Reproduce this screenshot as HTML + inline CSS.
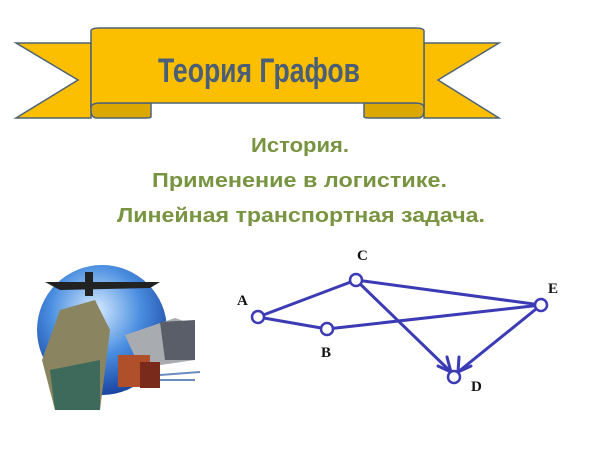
<!DOCTYPE html>
<html><head><meta charset="utf-8"><style>
html,body{margin:0;padding:0;background:#fff;}
svg{display:block;}
</style></head><body>
<svg width="600" height="450" viewBox="0 0 600 450" xmlns="http://www.w3.org/2000/svg">
<defs>
<radialGradient id="g" cx="0.45" cy="0.35" r="0.7">
<stop offset="0" stop-color="#d8ecff"/><stop offset="0.5" stop-color="#4a8ee0"/><stop offset="1" stop-color="#123a96"/>
</radialGradient>
</defs>
<polygon points="16,43 91,43 91,118 16,118 78,80" fill="#fbbf00" stroke="#4e6377" stroke-width="1.5"/>
<polygon points="499,43 424,43 424,118 499,118 438,80" fill="#fbbf00" stroke="#4e6377" stroke-width="1.5"/>
<path d="M91,103 L151,103 L151,117 Q151,118 145,118 L97,118 Q91,118 91,110 Z" fill="#dca800" stroke="#4e6377" stroke-width="1.5"/>
<path d="M364,103 L424,103 L424,110 Q424,118 418,118 L370,118 Q364,118 364,117 Z" fill="#dca800" stroke="#4e6377" stroke-width="1.5"/>
<path d="M91,31 Q91,28 100,28 L415,28 Q424,28 424,31 L424,108 Q424,103 415,103 L370,103 L145,103 L100,103 Q91,103 91,108 Z" fill="#fbbf00" stroke="#4e6377" stroke-width="1.5"/>
<text x="158" y="82" font-family="Liberation Sans, sans-serif" font-size="34" font-weight="bold" fill="#4a5f77" textLength="202" lengthAdjust="spacingAndGlyphs">Теория Графов</text>
<g font-family="Liberation Sans, sans-serif" font-weight="bold" font-size="20" fill="#789440">
<text x="251" y="152" textLength="98" lengthAdjust="spacingAndGlyphs">История.</text>
<text x="152" y="187" textLength="295" lengthAdjust="spacingAndGlyphs">Применение в логистике.</text>
<text x="117" y="222" textLength="368" lengthAdjust="spacingAndGlyphs">Линейная транспортная задача.</text>
</g>
<circle cx="102" cy="330" r="65" fill="url(#g)"/>
<path d="M45,282 L160,282 L150,288 L60,290 Z" fill="#222"/>
<rect x="85" y="272" width="8" height="24" fill="#222"/>
<polygon points="60,310 95,300 110,330 100,410 55,410 42,360" fill="#8a8460"/>
<polygon points="50,370 100,360 100,410 55,410" fill="#3d6a5a"/>
<polygon points="125,335 175,318 195,325 195,360 140,368" fill="#a8acb0"/>
<polygon points="160,322 195,320 195,360 165,360" fill="#5a5e68"/>
<rect x="118" y="355" width="32" height="32" fill="#b0502a"/>
<rect x="140" y="362" width="20" height="26" fill="#7a2a1a"/>
<line x1="160" y1="375" x2="200" y2="372" stroke="#6a8ac0" stroke-width="2"/>
<line x1="160" y1="380" x2="195" y2="380" stroke="#6a8ac0" stroke-width="2"/>
<g stroke="#3b3bb5" stroke-width="3" fill="none" stroke-linecap="round">
<line x1="258" y1="317" x2="356" y2="280"/>
<line x1="258" y1="317" x2="327" y2="329"/>
<line x1="327" y1="329" x2="541" y2="305"/>
<line x1="356" y1="280" x2="541" y2="305"/>
<line x1="356" y1="280" x2="451" y2="372"/>
<line x1="541" y1="305" x2="458" y2="372"/>
<polyline points="438,366 451,372 447,357"/>
<polyline points="459,357 458,372 471,366"/>
</g>
<g fill="#fff" stroke="#3b3bb5" stroke-width="2.5">
<circle cx="258" cy="317" r="6"/><circle cx="356" cy="280" r="6"/><circle cx="327" cy="329" r="6"/>
<circle cx="541" cy="305" r="6"/><circle cx="454" cy="377" r="6"/>
</g>
<g font-family="Liberation Serif, serif" font-weight="bold" font-size="15" fill="#111">
<text x="237" y="305">A</text><text x="357" y="260">C</text><text x="321" y="357">B</text>
<text x="548" y="293">E</text><text x="471" y="391">D</text>
</g>
</svg>
</body></html>
